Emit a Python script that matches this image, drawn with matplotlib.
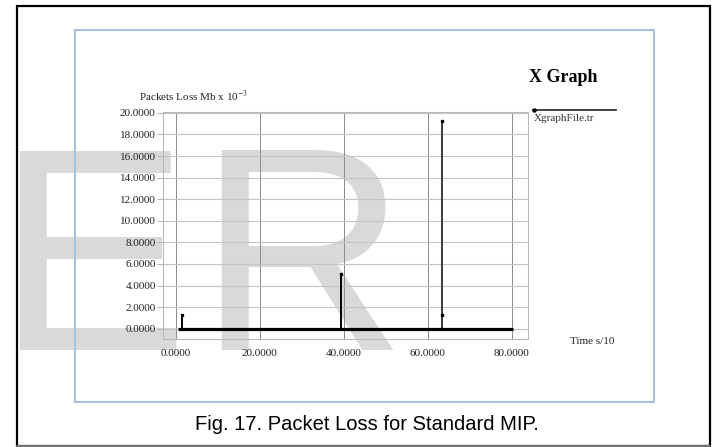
import matplotlib
matplotlib.use("Agg")
import matplotlib.pyplot as plt
from matplotlib.patches import Rectangle
from matplotlib.lines import Line2D

# data (time in s/10, loss in Mb x 10^-3)
run_t = [0.5, 80.3]
run_loss = [0.0, 0.0]
spike_t = [1.6, 39.3, 63.4]
spike_loss = [1.25, 5.05, 19.2]
mid_t = [63.4]
mid_loss = [1.3]

xticks = [0, 20, 40, 60, 80]
yticks = [0, 2, 4, 6, 8, 10, 12, 14, 16, 18, 20]

W, H = 715, 447
plt.rcParams['mathtext.fontset'] = 'stix'
serif = 'Liberation Serif'

fig = plt.figure(figsize=(W / 100, H / 100), dpi=100)

def fx(px):
    return px / W

def fy(py):
    return 1 - py / H

# watermark behind everything
fig.text(fx(-5), fy(350), "E", family='Liberation Sans', fontsize=208,
         color='#d9d9d9', ha='left', va='baseline', zorder=-5)
fig.text(fx(197), fy(350), "R", family='Liberation Sans', fontsize=208,
         color='#d9d9d9', ha='left', va='baseline', zorder=-5)

# outer page frame and the blue box round the graph
fig.add_artist(Rectangle((fx(16.7), fy(445.5)), fx(710) - fx(16.7), fy(5.7) - fy(445.5),
                         transform=fig.transFigure, fill=False, edgecolor='black', lw=1.6, zorder=-1))
fig.add_artist(Line2D([fx(16.7), fx(710)], [fy(445.5), fy(445.5)], transform=fig.transFigure,
                      color='#888888', lw=1.2))
fig.add_artist(Rectangle((fx(75), fy(402)), fx(653.5) - fx(75), fy(30) - fy(402),
                         transform=fig.transFigure, fill=False, edgecolor='#a4c0e4', lw=1.4, zorder=-1))

ax = fig.add_axes([fx(162.7), fy(339), fx(528.3) - fx(162.7), fy(112.3) - fy(339)])
ax.patch.set_facecolor('none')
ax.set_xlim(-3.1, 84.0)
ax.set_ylim(-0.95, 20.05)

for x in xticks:
    ax.axvline(x, color='#8a8a8a', lw=0.7, zorder=1)
for y in yticks:
    ax.axhline(y, color='#c4c4c4', lw=0.8, zorder=1)
for s in ax.spines.values():
    s.set_color('#b8b8b8')
    s.set_linewidth(0.8)

ax.set_xticks(xticks)
ax.set_xticklabels(["%.4f" % v for v in xticks], family=serif, fontsize=8, color='#222222')
ax.set_yticks(yticks)
ax.set_yticklabels(["%.4f" % v for v in yticks], family=serif, fontsize=8, color='#222222')
ax.tick_params(axis='x', length=0, pad=7)
ax.tick_params(axis='y', length=4, width=0.8, color='#b8b8b8', pad=1)

# trace
ax.plot(run_t, run_loss, color='black', lw=2.3, solid_capstyle='butt', zorder=4)
ax.vlines(spike_t, 0, spike_loss, colors=['black', 'black', '#3a3a3a'], lw=1.4, zorder=3)
ax.plot(spike_t, spike_loss, ls='none', marker='s', ms=1.8, color='black', zorder=5)
ax.plot(mid_t, mid_loss, ls='none', marker='s', ms=1.5, color='black', zorder=5)

# texts around the graph
fig.text(fx(139), fy(96), "Packets Loss Mb x 10$^{-3}$", family=serif, fontsize=8,
         color='#222222', ha='left', va='center')
fig.text(fx(563), fy(77), "X Graph", family=serif, fontsize=13, weight='bold',
         ha='center', va='center')
fig.text(fx(570), fy(341), "Time s/10", family=serif, fontsize=8, color='#222222',
         ha='left', va='center')

# legend entry
fig.add_artist(Line2D([fx(533), fx(616)], [fy(110), fy(110)], transform=fig.transFigure,
                      color='#333333', lw=1.3))
fig.add_artist(Line2D([fx(534)], [fy(110)], transform=fig.transFigure, ls='none',
                      marker='o', ms=2.2, color='black'))
fig.text(fx(534), fy(118.5), "XgraphFile.tr", family=serif, fontsize=8, color='#333333',
         ha='left', va='center')

fig.text(fx(367), fy(425), "Fig. 17. Packet Loss for Standard MIP.", family='Liberation Sans',
         fontsize=14.5, ha='center', va='center')

fig.savefig("out.png", dpi=100)
